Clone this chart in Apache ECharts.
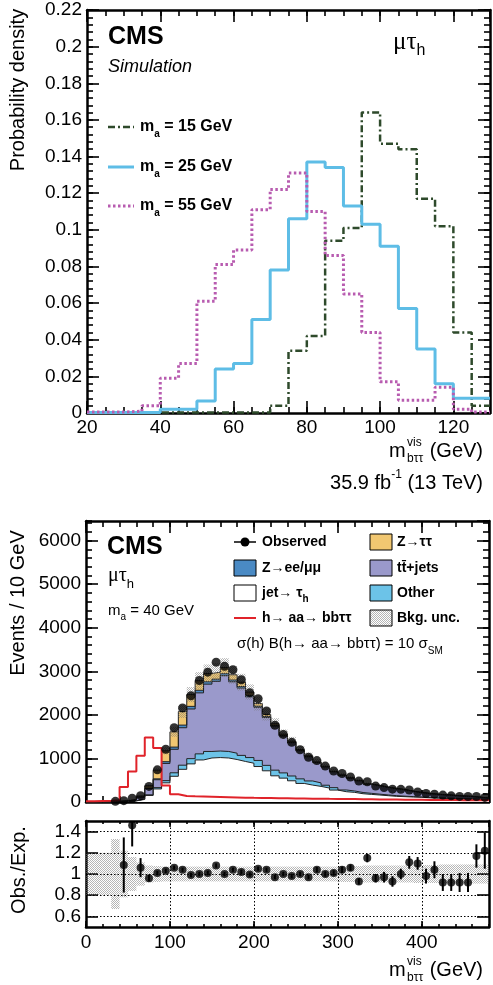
<!DOCTYPE html>
<html>
<head>
<meta charset="utf-8">
<script src="https://cdn.jsdelivr.net/npm/echarts@6.0.0/dist/echarts.min.js"></script>
<style>
html,body{margin:0;padding:0;background:#fff;}
#chart{width:493px;height:985px;}
</style>
</head>
<body>
<div id="chart"></div>
<script>
// ===================== DATA =====================
// Top panel: normalized m_btt^vis distributions, 5 GeV bins (low edges)
const topBinLow = [20,25,30,35,40,45,50,55,60,65,70,75,80,85,90,95,100,105,110,115,120,125];
const topBinEnd = 130;
const densMa15 = [0.0003,0.0003,0.0003,0.0003,0.0003,0.0003,0.0003,0.0003,0.0003,0.0003,0.004,0.034,0.042,0.094,0.101,0.164,0.147,0.144,0.117,0.102,0.044,0.004];
const densMa25 = [0.0003,0.0003,0.0003,0.0003,0.002,0.002,0.0065,0.024,0.027,0.051,0.078,0.106,0.137,0.134,0.113,0.103,0.091,0.057,0.035,0.016,0.008,0.008];
const densMa55 = [0.0005,0.0005,0.001,0.004,0.019,0.027,0.061,0.081,0.089,0.111,0.122,0.131,0.110,0.086,0.065,0.044,0.017,0.007,0.007,0.014,0.002,0.0005];

// Bottom panel: events per 10 GeV bin (low edges)
const binLow = [0,10,20,30,40,50,60,70,80,90,100,110,120,130,140,150,160,170,180,190,200,210,220,230,240,250,260,270,280,290,300,310,320,330,340,350,360,370,380,390,400,410,420,430,440,450,460,470];
const binEnd = 480;
const observed = [null,null,null,15,30,85,145,358,738,1210,1705,2160,2440,2790,2980,3210,3115,3035,2805,2510,2370,2090,1762,1552,1370,1200,1028,950,825,712,655,575,480,465,365,330,295,290,275,230,195,180,158,142,128,125,125,105];
const jetTau = [0,0,0,8,12,25,60,150,300,440,590,750,875,965,1010,1020,1010,975,930,890,814,716,601,548,487,426,388,358,320,274,236,221,190,175,160,145,130,122,114,107,95,88,82,76,70,65,60,55];
const otherBkg = [0,0,0,1,2,4,8,15,30,50,80,95,120,140,150,150,150,145,140,130,140,125,130,120,110,105,95,80,65,55,40,32,28,24,20,17,15,12,10,9,8,8,7,7,6,6,5,5];
const ttJets = [0,0,0,4,10,19,45,140,181,395,540,860,1140,1400,1545,1600,1740,1640,1545,1393,1220,1100,1010,845,765,645,555,465,420,365,335,295,270,210,195,175,162,148,122,100,90,78,74,66,59,55,42,30];
const zll = [0,0,0,0,1,2,4,8,20,40,50,60,60,60,55,50,45,40,35,30,25,20,16,13,10,8,7,6,5,4,4,3,3,3,2,2,2,2,2,2,2,2,2,2,2,2,2,2];
const ztt = [0,0,0,2,3,8,20,60,200,250,350,310,270,220,190,160,140,120,100,80,60,50,40,30,25,20,15,12,10,8,6,5,4,4,3,3,2,2,2,2,2,2,2,2,2,2,2,2];
const signal = [20,25,30,40,345,700,1060,1480,1240,380,180,140,130,125,120,115,110,105,100,95,92,90,88,85,82,80,77,75,72,70,68,66,64,62,60,58,56,54,52,50,48,46,45,44,43,42,41,40];
const bkgUncFrac = [0.2,0.2,0.2,0.33,0.22,0.16,0.11,0.08,0.075,0.07,0.07,0.07,0.07,0.07,0.07,0.07,0.07,0.07,0.07,0.07,0.07,0.07,0.07,0.07,0.07,0.07,0.07,0.07,0.07,0.07,0.075,0.075,0.075,0.08,0.08,0.08,0.08,0.08,0.08,0.085,0.085,0.085,0.09,0.09,0.09,0.09,0.09,0.09];
const ratio = [null,null,null,null,1.085,1.46,1.06,0.96,1.01,1.03,1.06,1.04,0.99,1.0,1.01,1.08,1.0,1.04,1.02,0.995,1.05,1.04,0.97,1.0,0.98,1.0,0.97,1.04,1.0,1.01,1.04,1.06,0.93,1.15,0.96,0.97,0.93,1.0,1.11,1.1,0.98,1.04,0.92,0.92,0.92,0.92,1.17,1.22];
const ratioErr = [null,null,null,null,0.26,0.2,0.09,0.03,0.02,0.02,0.02,0.02,0.02,0.02,0.02,0.02,0.02,0.02,0.02,0.02,0.02,0.02,0.02,0.02,0.02,0.02,0.02,0.025,0.025,0.025,0.03,0.03,0.03,0.04,0.04,0.05,0.05,0.05,0.06,0.06,0.07,0.08,0.08,0.08,0.09,0.09,0.11,0.17];
const ratioTicks = [0.6,0.8,1.0,1.2,1.4];

// ===================== HELPERS =====================
const FONT = '"Liberation Sans", Arial, Helvetica, sans-serif';
const SERIF = '"Liberation Serif", "DejaVu Serif", serif';

function stepData(lows, vals, end) {
  const d = lows.map((x, i) => [x, vals[i]]);
  d.push([end, vals[vals.length - 1]]);
  return d;
}
function binHigh(i) { return i + 1 < binLow.length ? binLow[i + 1] : binEnd; }
function binCenter(i) { return (binLow[i] + binHigh(i)) / 2; }

function makePattern() {
  const c = document.createElement('canvas');
  c.width = 2; c.height = 2;
  const g = c.getContext('2d');
  g.fillStyle = 'rgba(120,120,120,0.55)';
  g.fillRect(0, 0, 1, 1);
  g.fillRect(1, 1, 1, 1);
  return c;
}
const hatch = { image: makePattern(), repeat: 'repeat' };

function plainNum(v) { return String(Math.round(v * 1000) / 1000); }

function ax(gridIndex, position, min, max, interval, tickLen, opts) {
  opts = opts || {};
  const a = {
    gridIndex, type: 'value', position, min, max,
    axisLine: { show: !!opts.line, onZero: false, lineStyle: { color: '#000', width: 2.5 } },
    axisTick: { show: true, inside: true, length: tickLen, lineStyle: { color: '#000', width: opts.tickW || 1.6 } },
    axisLabel: opts.label ? Object.assign({ show: true, color: '#000', fontSize: 19, fontFamily: FONT, showMaxLabel: false, formatter: plainNum }, opts.label) : { show: false },
    splitLine: { show: false },
    minorTick: { show: false },
    axisPointer: { show: false }
  };
  if (interval != null) a.interval = interval;
  if (opts.custom) { a.axisTick.customValues = opts.custom; if (opts.label) a.axisLabel.customValues = opts.custom; }
  return a;
}

// ===================== AXES =====================
const xAxes = [
  ax(0, 'bottom', 20, 130, 20, 12, { line: true, label: { margin: 5 } }),
  ax(0, 'top', 20, 130, 20, 12, { line: true }),
  ax(0, 'bottom', 20, 130, 5, 6, {}),
  ax(0, 'top', 20, 130, 5, 6, {}),
  ax(1, 'bottom', 0, 480, 100, 12, { line: true }),
  ax(1, 'top', 0, 480, 100, 12, { line: true }),
  ax(1, 'bottom', 0, 480, 20, 6, {}),
  ax(1, 'top', 0, 480, 20, 6, {}),
  ax(2, 'bottom', 0, 480, 100, 6, { line: true, label: { margin: 6 } }),
  ax(2, 'top', 0, 480, 100, 6, { line: true }),
  ax(2, 'bottom', 0, 480, 20, 3, {}),
  ax(2, 'top', 0, 480, 20, 3, {})
];
const yAxes = [
  ax(0, 'left', 0, 0.22, 0.02, 12, { line: true, label: { margin: 5, showMaxLabel: true } }),
  ax(0, 'right', 0, 0.22, 0.02, 12, { line: true }),
  ax(0, 'left', 0, 0.22, 0.004, 6, {}),
  ax(0, 'right', 0, 0.22, 0.004, 6, {}),
  ax(1, 'left', 0, 6450, 1000, 12, { line: true, label: { margin: 5 } }),
  ax(1, 'right', 0, 6450, 1000, 12, { line: true }),
  ax(1, 'left', 0, 6450, 200, 6, {}),
  ax(1, 'right', 0, 6450, 200, 6, {}),
  ax(2, 'left', 0.5, 1.5, null, 12, { line: true, custom: ratioTicks, label: { margin: 5, showMinLabel: true, showMaxLabel: true } }),
  ax(2, 'right', 0.5, 1.5, null, 12, { line: true, custom: ratioTicks })
];

// ===================== SERIES =====================
const series = [];
series.push({
  type: 'line', name: 'ma15', xAxisIndex: 0, yAxisIndex: 0, step: 'end', symbol: 'none', z: 3,
  data: stepData(topBinLow, densMa15, topBinEnd),
  lineStyle: { color: '#2e4a2b', width: 2.5, type: [7, 3, 2, 3] }
});
series.push({
  type: 'line', name: 'ma25', xAxisIndex: 0, yAxisIndex: 0, step: 'end', symbol: 'none', z: 3,
  data: stepData(topBinLow, densMa25, topBinEnd),
  lineStyle: { color: '#5ebde6', width: 3 }
});
series.push({
  type: 'line', name: 'ma55', xAxisIndex: 0, yAxisIndex: 0, step: 'end', symbol: 'none', z: 3,
  data: stepData(topBinLow, densMa55, topBinEnd),
  lineStyle: { color: '#b85cb0', width: 3, type: [2.5, 2.5] }
});

// stacked backgrounds (bottom to top); drawn as cumulative filled steps, top-most first
const comps = [
  { name: 'jet→τh', data: jetTau, color: '#ffffff' },
  { name: 'Other', data: otherBkg, color: '#6cc3e8' },
  { name: 'tt+jets', data: ttJets, color: '#9a99cb' },
  { name: 'Z→ee/μμ', data: zll, color: '#4a8ac4' },
  { name: 'Z→ττ', data: ztt, color: '#f1c771' }
];
const cumul = [];
comps.forEach((c, k) => {
  cumul.push(binLow.map((_, i) => c.data[i] + (k > 0 ? cumul[k - 1][i] : 0)));
});
for (let k = comps.length - 1; k >= 0; k--) {
  series.push({
    type: 'line', name: comps[k].name, xAxisIndex: 4, yAxisIndex: 4, step: 'end', symbol: 'none',
    z: 2, zlevel: 0,
    data: stepData(binLow, cumul[k], binEnd),
    lineStyle: { color: '#222', width: 1 },
    areaStyle: { color: comps[k].color, opacity: 1, origin: 'start' }
  });
}
const totalBkg = cumul[comps.length - 1];
series.push({
  type: 'custom', name: 'Bkg. unc.', xAxisIndex: 4, yAxisIndex: 4, z: 3, clip: true,
  encode: { x: [0, 1], y: [2, 3] },
  data: binLow.map((lo, i) => [lo, binHigh(i), totalBkg[i] * (1 - bkgUncFrac[i]), totalBkg[i] * (1 + bkgUncFrac[i])]),
  renderItem: function (params, api) {
    const p0 = api.coord([api.value(0), api.value(3)]);
    const p1 = api.coord([api.value(1), api.value(2)]);
    return { type: 'rect', shape: { x: p0[0], y: p0[1], width: p1[0] - p0[0], height: p1[1] - p0[1] }, style: { fill: hatch } };
  }
});
series.push({
  type: 'line', name: 'signal', xAxisIndex: 4, yAxisIndex: 4, step: 'end', symbol: 'none', z: 4,
  data: stepData(binLow, signal, binEnd),
  lineStyle: { color: '#e0232a', width: 2 }
});
series.push({
  type: 'scatter', name: 'Observed', xAxisIndex: 4, yAxisIndex: 4, z: 5,
  symbol: 'circle', symbolSize: 9, itemStyle: { color: '#000' },
  data: binLow.map((lo, i) => observed[i] == null ? null : [binCenter(i), observed[i]]).filter(d => d)
});

// ratio
series.push({
  type: 'custom', name: 'ratioUnc', xAxisIndex: 8, yAxisIndex: 8, z: 2, clip: true,
  encode: { x: [0, 1], y: [2, 3] },
  data: binLow.map((lo, i) => [lo, binHigh(i), 1 - bkgUncFrac[i], 1 + bkgUncFrac[i]]),
  renderItem: function (params, api) {
    const p0 = api.coord([api.value(0), api.value(3)]);
    const p1 = api.coord([api.value(1), api.value(2)]);
    return { type: 'rect', shape: { x: p0[0], y: p0[1], width: p1[0] - p0[0], height: p1[1] - p0[1] }, style: { fill: hatch } };
  }
});
series.push({
  type: 'custom', name: 'ratioErr', xAxisIndex: 8, yAxisIndex: 8, z: 4, clip: true,
  encode: { x: 0, y: [1, 2] },
  data: binLow.map((lo, i) => ratio[i] == null ? null : [binCenter(i), ratio[i] - ratioErr[i], ratio[i] + ratioErr[i]]).filter(d => d),
  renderItem: function (params, api) {
    const a = api.coord([api.value(0), api.value(1)]);
    const b = api.coord([api.value(0), api.value(2)]);
    return { type: 'line', shape: { x1: a[0], y1: a[1], x2: b[0], y2: b[1] }, style: { stroke: '#000', lineWidth: 2 } };
  }
});
series.push({
  type: 'scatter', name: 'ratio', xAxisIndex: 8, yAxisIndex: 8, z: 5,
  symbol: 'circle', symbolSize: 8, itemStyle: { color: '#000' },
  data: binLow.map((lo, i) => ratio[i] == null ? null : [binCenter(i), ratio[i]]).filter(d => d),
  markLine: {
    silent: true, symbol: 'none', label: { show: false }, animation: false,
    lineStyle: { color: '#000', width: 1, type: [1.5, 2] },
    data: ratioTicks.map(v => ({ yAxis: v })).concat([100, 200, 300, 400].map(v => ({ xAxis: v })))
  }
});

// ===================== TEXT / LEGENDS =====================
const G = [];
function T(x, y, style, extra) {
  G.push(Object.assign({ type: 'text', x, y, silent: true, z: 100,
    style: Object.assign({ fill: '#000', textAlign: 'left', textVerticalAlign: 'middle' }, style) }, extra || {}));
}
function rs(size, weight, va, lh, fam) {
  return { fontSize: size, fontWeight: weight || 'normal', fontFamily: fam || FONT, verticalAlign: va || 'middle', lineHeight: lh || size, fill: '#000' };
}
function L(x1, y1, x2, y2, stroke, w, dash) {
  G.push({ type: 'line', silent: true, z: 100, shape: { x1, y1, x2, y2 }, style: { stroke, lineWidth: w, lineDash: dash || null } });
}
function R(x, y, w, h, fill) {
  G.push({ type: 'rect', silent: true, z: 100, shape: { x, y, width: w, height: h }, style: { fill, stroke: '#000', lineWidth: 1 } });
}

T(108, 37, { text: 'CMS', font: 'bold 25px ' + FONT });
T(108, 67, { text: 'Simulation', font: 'italic 18px ' + FONT });
T(393, 42, { text: '{g|μτ}{s|h}', rich: { g: rs(25, 'normal', 'middle', 34, SERIF), s: rs(16, 'normal', 'bottom', 16) } });
const topLeg = [
  { y: 127, txt: '15', color: '#2e4a2b', w: 2.5, dash: [7, 3, 2, 3] },
  { y: 167, txt: '25', color: '#5ebde6', w: 3, dash: null },
  { y: 206, txt: '55', color: '#b85cb0', w: 3, dash: [2.5, 2.5] }
];
topLeg.forEach(l => {
  L(108, l.y, 134, l.y, l.color, l.w, l.dash);
  T(140, l.y, { text: '{m|m}{s|a}{m| = ' + l.txt + ' GeV}', rich: { m: rs(16, 'bold', 'middle', 24), s: rs(10, 'bold', 'bottom', 10) } });
});
T(18, 90, { text: 'Probability density', font: '20px ' + FONT, textAlign: 'center' }, { rotation: Math.PI / 2 });
function xTitle(y) {
  T(483, y, { text: '(GeV)', font: '20px ' + FONT, textAlign: 'right' });
  T(389, y, { text: 'm', font: '20px ' + FONT });
  T(407, y - 8, { text: 'vis', font: '12px ' + FONT });
  T(407, y + 8, { text: 'bττ', font: '12px ' + FONT });
}
xTitle(451);
T(483, 483, { text: '{a|35.9 fb}{p|-1}{a| (13 TeV)}', textAlign: 'right', rich: { a: rs(20, 'normal', 'middle', 28), p: rs(12, 'normal', 'top', 12) } });

T(107, 547, { text: 'CMS', font: 'bold 25px ' + FONT });
T(108, 576, { text: '{g|μτ}{s|h}', rich: { g: rs(20, 'normal', 'middle', 30, SERIF), s: rs(13, 'normal', 'bottom', 13) } });
T(108, 611, { text: '{a|m}{s|a}{a| = 40 GeV}', rich: { a: rs(15, 'normal', 'middle', 22), s: rs(10, 'normal', 'bottom', 10) } });
T(18, 603, { text: 'Events / 10 GeV', font: '20px ' + FONT, textAlign: 'center' }, { rotation: Math.PI / 2 });
T(19, 870, { text: 'Obs./Exp.', font: '20px ' + FONT, textAlign: 'center' }, { rotation: Math.PI / 2 });
xTitle(970);

const lx = 234, rx = 370, bw = 22, bh = 16;
const rows = [542, 568, 593, 618];
const legB = { m: rs(14, 'bold', 'middle', 22), s: rs(10, 'bold', 'bottom', 10) };
L(lx, rows[0], lx + bw, rows[0], '#000', 1.5);
G.push({ type: 'circle', silent: true, z: 101, shape: { cx: lx + bw / 2, cy: rows[0], r: 4.5 }, style: { fill: '#000' } });
T(lx + 28, rows[0], { text: 'Observed', font: 'bold 14px ' + FONT });
R(lx, rows[1] - bh / 2, bw, bh, comps[3].color);
T(lx + 28, rows[1], { text: 'Z→ee/μμ', font: 'bold 14px ' + FONT });
R(lx, rows[2] - bh / 2, bw, bh, '#ffffff');
T(lx + 28, rows[2], { text: '{m|jet→ τ}{s|h}', rich: legB });
L(lx, rows[3], lx + bw, rows[3], '#e0232a', 2);
T(lx + 28, rows[3], { text: 'h→ aa→ bbττ', font: 'bold 14px ' + FONT });
R(rx, rows[0] - bh / 2, bw, bh, comps[4].color);
T(rx + 27, rows[0], { text: 'Z→ττ', font: 'bold 14px ' + FONT });
R(rx, rows[1] - bh / 2, bw, bh, comps[2].color);
T(rx + 27, rows[1], { text: 'tt\u0304+jets', font: 'bold 14px ' + FONT });
R(rx, rows[2] - bh / 2, bw, bh, comps[1].color);
T(rx + 27, rows[2], { text: 'Other', font: 'bold 14px ' + FONT });
G.push({ type: 'rect', silent: true, z: 100, shape: { x: rx, y: rows[3] - bh / 2, width: bw, height: bh }, style: { fill: hatch, stroke: '#000', lineWidth: 1 } });
T(rx + 27, rows[3], { text: 'Bkg. unc.', font: 'bold 14px ' + FONT });
T(237, 644, { text: '{a|σ(h) B(h→ aa→ bbττ) = 10 σ}{s|SM}', rich: { a: rs(15, 'normal', 'middle', 24), s: rs(10, 'normal', 'bottom', 10) } });

// ===================== CHART =====================
const chart = echarts.init(document.getElementById('chart'), null, { renderer: 'canvas', width: 493, height: 985 });
chart.setOption({
  animation: false,
  backgroundColor: '#fff',
  grid: [
    { left: 87, top: 10, width: 403, height: 403, outerBoundsMode: 'none', containLabel: false },
    { left: 86, top: 521, width: 403, height: 281, outerBoundsMode: 'none', containLabel: false },
    { left: 86, top: 821, width: 403, height: 106, outerBoundsMode: 'none', containLabel: false }
  ],
  xAxis: xAxes,
  yAxis: yAxes,
  series: series,
  graphic: { elements: G }
});
</script>
</body>
</html>
